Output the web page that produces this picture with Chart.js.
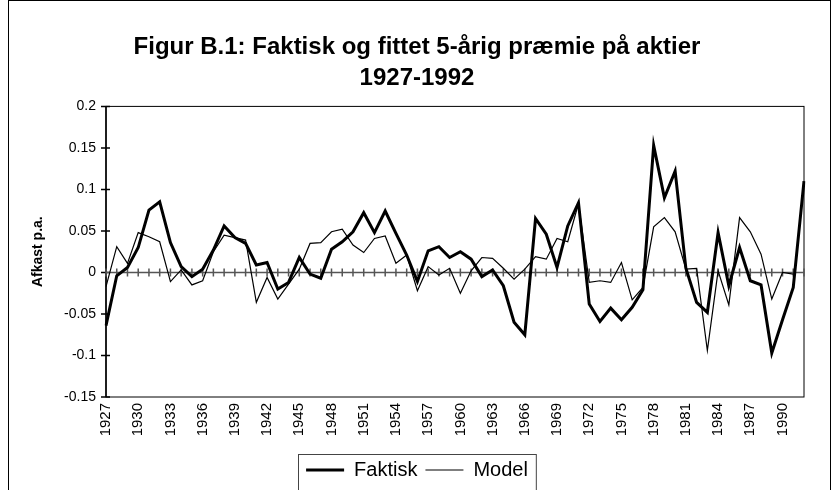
<!DOCTYPE html>
<html>
<head>
    <title>Figur B.1</title>
    <script src="https://cdn.jsdelivr.net/npm/chart.js"></script>
    <style>
        body {
            margin: 0;
            background-color: #fff;
        }
        canvas {
            display: block;
        }
    </style>
</head>
<body>

    <canvas id="premiumChart" width="839" height="490"></canvas>

    <script>
        const FONT = "'Liberation Sans', Arial, sans-serif";

        const years = [];
        for (let y = 1927; y <= 1992; y++) years.push(String(y));

        // faktisk 5-aarig praemie (tyk linje)
        const faktisk = [
            -0.064, -0.004, 0.006, 0.030, 0.075, 0.085, 0.036, 0.007, -0.005, 0.004,
            0.027, 0.056, 0.042, 0.035, 0.009, 0.012, -0.020, -0.012, 0.018, -0.002,
            -0.007, 0.028, 0.037, 0.049, 0.072, 0.048, 0.074, 0.047, 0.021, -0.011,
            0.026, 0.031, 0.018, 0.025, 0.016, -0.005, 0.003, -0.016, -0.060, -0.075,
            0.065, 0.046, 0.006, 0.056, 0.084, -0.038, -0.059, -0.043, -0.057, -0.042,
            -0.021, 0.153, 0.090, 0.122, 0.005, -0.036, -0.048, 0.048, -0.016, 0.030,
            -0.010, -0.015, -0.097, -0.057, -0.018, 0.110
        ];

        // fittet model (tynd linje)
        const model = [
            -0.017, 0.031, 0.011, 0.048, 0.043, 0.037, -0.011, 0.003, -0.015, -0.010,
            0.025, 0.045, 0.042, 0.039, -0.036, -0.006, -0.032, -0.014, 0.004, 0.035,
            0.036, 0.049, 0.052, 0.033, 0.024, 0.041, 0.044, 0.011, 0.021, -0.022,
            0.007, -0.003, 0.005, -0.025, 0.002, 0.018, 0.017, 0.005, -0.008, 0.004,
            0.019, 0.016, 0.041, 0.037, 0.083, -0.012, -0.010, -0.012, 0.012, -0.033,
            -0.018, 0.055, 0.066, 0.049, 0.004, 0.005, -0.094, 0.002, -0.039, 0.066,
            0.049, 0.022, -0.032, 0.000, -0.002, null
        ];

        const yMin = -0.15;
        const yMax = 0.2;
        const yStep = 0.05;
        const labelEvery = 3;

        // akse ved nul, plotramme, ydre ramme og legendeboks
        const framePlugin = {
            id: 'frame',
            beforeDatasetsDraw(chart) {
                const ctx = chart.ctx;
                const area = chart.chartArea;
                const x = chart.scales.x;
                const y = chart.scales.y;
                ctx.save();
                ctx.strokeStyle = '#000';
                ctx.lineWidth = 1;
                ctx.strokeRect(area.left, area.top, area.right - area.left, area.bottom - area.top);

                // y-akse med krydsende streger
                ctx.lineWidth = 1.5;
                ctx.beginPath();
                ctx.moveTo(area.left, area.top);
                ctx.lineTo(area.left, area.bottom);
                for (let v = yMin; v <= yMax + 1e-9; v += yStep) {
                    const py = y.getPixelForValue(v);
                    ctx.moveTo(area.left - 5, py);
                    ctx.lineTo(area.left + 4, py);
                }
                ctx.stroke();

                // x-akse ved nul
                const y0 = y.getPixelForValue(0);
                ctx.strokeStyle = '#555';
                ctx.beginPath();
                ctx.moveTo(area.left, y0);
                ctx.lineTo(area.right, y0);
                for (let i = 0; i < years.length; i++) {
                    const px = x.getPixelForValue(i);
                    ctx.moveTo(px, y0 - 4);
                    ctx.lineTo(px, y0 + 4);
                }
                ctx.stroke();
                ctx.restore();
            },
            afterDraw(chart) {
                const ctx = chart.ctx;
                ctx.save();
                ctx.strokeStyle = '#000';
                ctx.lineWidth = 1;
                ctx.strokeRect(8.5, 0.5, 822, 500);

                const boxes = chart.legend.legendHitBoxes;
                if (boxes && boxes.length) {
                    const left = Math.min(...boxes.map(b => b.left)) - 8;
                    const right = Math.max(...boxes.map(b => b.left + b.width)) + 8;
                    const top = Math.min(...boxes.map(b => b.top)) - 6;
                    ctx.strokeStyle = '#444';
                    ctx.strokeRect(Math.round(left) + 0.5, Math.round(top) + 0.5, right - left, 60);
                }
                ctx.restore();
            }
        };

        const config = {
            type: 'line',
            data: {
                labels: years,
                datasets: [
                    {
                        label: 'Faktisk',
                        data: faktisk,
                        borderColor: '#000',
                        backgroundColor: '#000',
                        borderWidth: 3,
                        pointRadius: 0,
                        tension: 0,
                        fill: false
                    },
                    {
                        label: 'Model',
                        data: model,
                        borderColor: '#000',
                        backgroundColor: '#000',
                        borderWidth: 1.2,
                        pointRadius: 0,
                        tension: 0,
                        fill: false
                    }
                ]
            },
            options: {
                responsive: false,
                animation: false,
                layout: {
                    padding: { left: 30, right: 35, top: 0, bottom: 0 }
                },
                plugins: {
                    title: {
                        display: true,
                        text: ['Figur B.1: Faktisk og fittet 5-årig præmie på aktier', '1927-1992'],
                        color: '#000',
                        font: { family: FONT, size: 24, weight: 'bold', lineHeight: 1.3 },
                        padding: { top: 32, bottom: 12 }
                    },
                    legend: {
                        position: 'bottom',
                        labels: {
                            color: '#000',
                            font: { family: FONT, size: 20 },
                            boxWidth: 38,
                            boxHeight: 0,
                            padding: 8
                        }
                    },
                    tooltip: { enabled: false }
                },
                scales: {
                    x: {
                        type: 'category',
                        offset: false,
                        grid: { display: false, drawTicks: false },
                        border: { display: false },
                        ticks: {
                            autoSkip: false,
                            minRotation: 90,
                            maxRotation: 90,
                            padding: 6,
                            color: '#000',
                            font: { family: FONT, size: 15 },
                            callback: function (value, index) {
                                return index % labelEvery === 0 ? years[index] : '';
                            }
                        },
                        afterFit: function (scale) {
                            scale.height = 55;
                        }
                    },
                    y: {
                        min: yMin,
                        max: yMax,
                        grid: { display: false, drawTicks: false },
                        border: { display: false },
                        ticks: {
                            stepSize: yStep,
                            padding: 10,
                            color: '#000',
                            font: { family: FONT, size: 14 },
                            callback: function (value) {
                                return String(parseFloat(value.toFixed(2)));
                            }
                        },
                        title: {
                            display: true,
                            text: 'Afkast p.a.',
                            color: '#000',
                            font: { family: FONT, size: 14, weight: 'bold' },
                            padding: { top: 0, bottom: 0 }
                        },
                        afterFit: function (scale) {
                            scale.width = 76;
                        }
                    }
                }
            },
            plugins: [framePlugin]
        };

        const ctx = document.getElementById('premiumChart').getContext('2d');
        new Chart(ctx, config);
    </script>
</body>
</html>
